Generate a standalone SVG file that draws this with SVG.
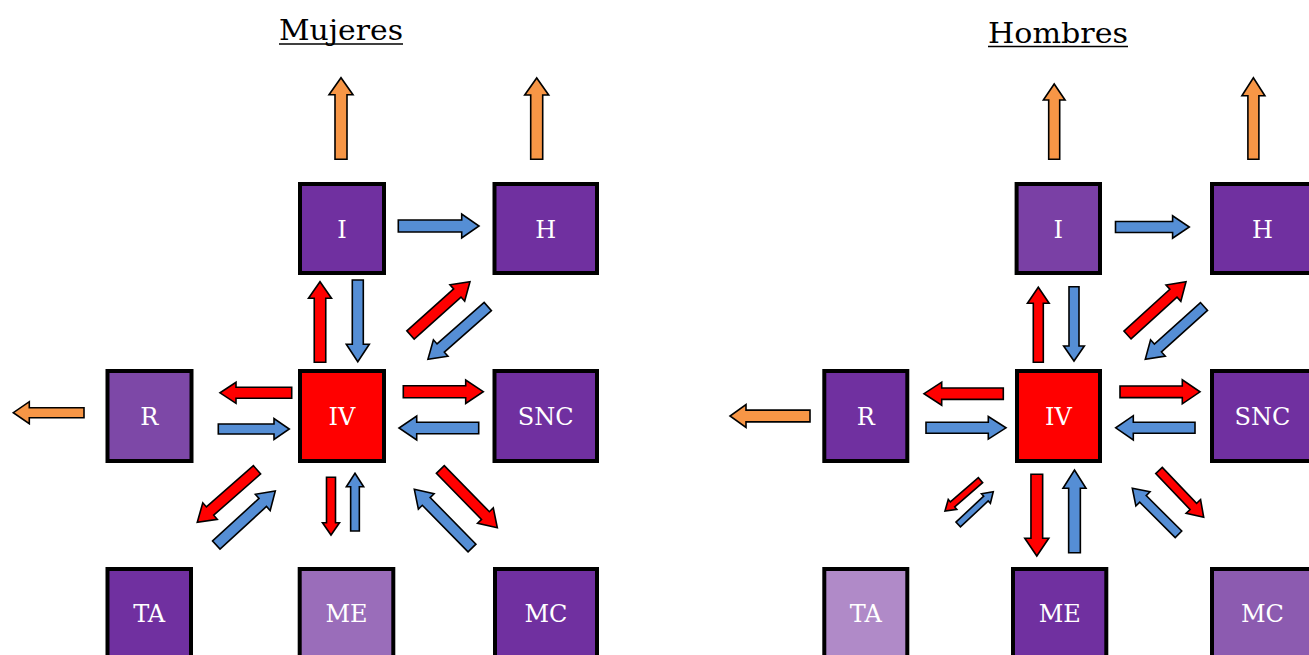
<svg xmlns="http://www.w3.org/2000/svg" width="1309" height="655" viewBox="0 0 1309 655">
  <style>
    .box { stroke: #000; stroke-width: 4; }
    .lbl { font-family: "DejaVu Serif", "Liberation Serif", serif; font-size: 24px; fill: #fff; text-anchor: middle; }
    .title { font-family: "DejaVu Serif", "Liberation Serif", serif; font-size: 27px; fill: #000; }
    .ul { stroke: #000; stroke-width: 1.4; }
    .arr { stroke: #000; stroke-width: 1.6; stroke-linejoin: miter; }
    .red { fill: #FF0000; }
    .blue { fill: #558ED5; }
    .orange { fill: #F79646; }
    .dark { fill: #7030A0; }
  </style>

  <rect width="1309" height="655" fill="#fff"/>

  <!-- panel titles -->
  <g id="title-mujeres">
    <text class="title" x="279" y="40" textLength="124" lengthAdjust="spacingAndGlyphs">Mujeres</text>
    <line class="ul" x1="279" y1="44" x2="403" y2="44"/>
  </g>
  <g id="title-hombres">
    <text class="title" x="988" y="42.5" textLength="140" lengthAdjust="spacingAndGlyphs">Hombres</text>
    <line class="ul" x1="988" y1="46.5" x2="1128" y2="46.5"/>
  </g>

  <!-- left panel nodes -->
  <g id="m-I"><rect class="box dark" x="300" y="184" width="84" height="89"/><text class="lbl" x="342" y="237.5">I</text></g>
  <g id="m-H"><rect class="box dark" x="494.5" y="184" width="102.5" height="89"/><text class="lbl" x="545.7" y="237.5">H</text></g>
  <g id="m-R"><rect class="box" fill="#7D48A7" x="107.5" y="371" width="84" height="90"/><text class="lbl" x="149.4" y="425">R</text></g>
  <g id="m-IV"><rect class="box" fill="#FF0000" x="300" y="371" width="84" height="90"/><text class="lbl" x="342" y="425">IV</text></g>
  <g id="m-SNC"><rect class="box dark" x="494.5" y="371" width="102.5" height="90"/><text class="lbl" x="545.7" y="425">SNC</text></g>
  <g id="m-TA"><rect class="box dark" x="107.5" y="569" width="83.5" height="90"/><text class="lbl" x="149.2" y="622">TA</text></g>
  <g id="m-ME"><rect class="box" fill="#9A6DBA" x="299.7" y="569" width="93.6" height="90"/><text class="lbl" x="346.5" y="622">ME</text></g>
  <g id="m-MC"><rect class="box dark" x="495" y="569" width="102" height="90"/><text class="lbl" x="546" y="622">MC</text></g>

  <!-- right panel nodes -->
  <g id="h-I"><rect class="box" fill="#7A40A5" x="1016.6" y="184" width="83.4" height="89"/><text class="lbl" x="1058.3" y="237.5">I</text></g>
  <g id="h-H"><rect class="box dark" x="1212" y="184" width="101" height="89"/><text class="lbl" x="1262.5" y="237.5">H</text></g>
  <g id="h-R"><rect class="box dark" x="824.3" y="371" width="83" height="90"/><text class="lbl" x="865.8" y="425">R</text></g>
  <g id="h-IV"><rect class="box" fill="#FF0000" x="1017" y="371" width="83" height="90"/><text class="lbl" x="1058.5" y="425">IV</text></g>
  <g id="h-SNC"><rect class="box dark" x="1212" y="371" width="101" height="90"/><text class="lbl" x="1262.5" y="425">SNC</text></g>
  <g id="h-TA"><rect class="box" fill="#B08AC8" x="824.3" y="569" width="83" height="90"/><text class="lbl" x="865.8" y="622">TA</text></g>
  <g id="h-ME"><rect class="box dark" x="1013" y="569" width="93.3" height="90"/><text class="lbl" x="1059.7" y="622">ME</text></g>
  <g id="h-MC"><rect class="box" fill="#8C5BB0" x="1212" y="569" width="101" height="90"/><text class="lbl" x="1262.5" y="622">MC</text></g>

  <!-- block arrows: each drawn pointing along +x from its tail, then placed and rotated -->
  <g id="connectors">
    <!-- left panel -->
    <polygon class="arr orange" points="0,-6 64.6,-6 64.6,-12 81.6,0 64.6,12 64.6,6 0,6" transform="translate(341 159.3) rotate(-90)"/>
    <polygon class="arr orange" points="0,-6 64.3,-6 64.3,-12 81.3,0 64.3,12 64.3,6 0,6" transform="translate(536.7 159.3) rotate(-90)"/>
    <polygon class="arr orange" points="0,-5 54.7,-5 54.7,-11 70.7,0 54.7,11 54.7,5 0,5" transform="translate(84 412.7) rotate(180)"/>
    <polygon class="arr blue" points="0,-6 63.4,-6 63.4,-12 80.7,0 63.4,12 63.4,6 0,6" transform="translate(398.3 226)"/>
    <polygon class="arr red" points="0,-5.75 64,-5.75 64,-11.5 80.6,0 64,11.5 64,5.75 0,5.75" transform="translate(320 362.3) rotate(-90)"/>
    <polygon class="arr blue" points="0,-5.5 64.3,-5.5 64.3,-11.5 81.7,0 64.3,11.5 64.3,5.5 0,5.5" transform="translate(357.8 280) rotate(90)"/>
    <polygon class="arr red" points="0,-5.5 62.9,-5.5 62.9,-11 79.9,0 62.9,11 62.9,5.5 0,5.5" transform="translate(410.5 335) rotate(-41.9)"/>
    <polygon class="arr blue" points="0,-5.5 62.8,-5.5 62.8,-11 79.8,0 62.8,11 62.8,5.5 0,5.5" transform="translate(487.8 306.5) rotate(138.6)"/>
    <polygon class="arr red" points="0,-5.5 55.7,-5.5 55.7,-10.5 71.7,0 55.7,10.5 55.7,5.5 0,5.5" transform="translate(291.7 392.8) rotate(180)"/>
    <polygon class="arr blue" points="0,-5 55.7,-5 55.7,-10.5 71,0 55.7,10.5 55.7,5 0,5" transform="translate(218.3 429)"/>
    <polygon class="arr red" points="0,-6 62.4,-6 62.4,-11.7 80,0 62.4,11.7 62.4,6 0,6" transform="translate(403.3 391.7)"/>
    <polygon class="arr blue" points="0,-5.7 62,-5.7 62,-12 79.7,0 62,12 62,5.7 0,5.7" transform="translate(478.7 428) rotate(180)"/>
    <polygon class="arr red" points="0,-5.5 62.5,-5.5 62.5,-11 79.5,0 62.5,11 62.5,5.5 0,5.5" transform="translate(257 469.8) rotate(138.7)"/>
    <polygon class="arr blue" points="0,-5.5 63,-5.5 63,-11 80,0 63,11 63,5.5 0,5.5" transform="translate(216.3 545) rotate(-42.5)"/>
    <polygon class="arr red" points="0,-4.5 45.4,-4.5 45.4,-8.5 57.7,0 45.4,8.5 45.4,4.5 0,4.5" transform="translate(331 477.3) rotate(90)"/>
    <polygon class="arr blue" points="0,-4.35 44.3,-4.35 44.3,-8.65 57.7,0 44.3,8.65 44.3,4.35 0,4.35" transform="translate(355 531) rotate(-90)"/>
    <polygon class="arr blue" points="0,-5.5 65.3,-5.5 65.3,-11 82.3,0 65.3,11 65.3,5.5 0,5.5" transform="translate(472 548) rotate(-134.5)"/>
    <polygon class="arr red" points="0,-5.5 64.5,-5.5 64.5,-11 81.5,0 64.5,11 64.5,5.5 0,5.5" transform="translate(440.3 469.5) rotate(45.6)"/>

    <!-- right panel -->
    <polygon class="arr orange" points="0,-5.5 59.3,-5.5 59.3,-10.85 75.3,0 59.3,10.85 59.3,5.5 0,5.5" transform="translate(1054.2 159.3) rotate(-90)"/>
    <polygon class="arr orange" points="0,-5.5 63.6,-5.5 63.6,-11.5 81.6,0 63.6,11.5 63.6,5.5 0,5.5" transform="translate(1253.4 159.3) rotate(-90)"/>
    <polygon class="arr orange" points="0,-5.85 64,-5.85 64,-11.5 80,0 64,11.5 64,5.85 0,5.85" transform="translate(810 416) rotate(180)"/>
    <polygon class="arr blue" points="0,-5.5 57.1,-5.5 57.1,-11.15 73.8,0 57.1,11.15 57.1,5.5 0,5.5" transform="translate(1115.5 227)"/>
    <polygon class="arr red" points="0,-5 59,-5 59,-10.85 75,0 59,10.85 59,5 0,5" transform="translate(1038.3 362.3) rotate(-90)"/>
    <polygon class="arr blue" points="0,-5 59.3,-5 59.3,-10.35 74.3,0 59.3,10.35 59.3,5 0,5" transform="translate(1074 286.7) rotate(90)"/>
    <polygon class="arr red" points="0,-5.3 62.1,-5.3 62.1,-11 79.1,0 62.1,11 62.1,5.3 0,5.3" transform="translate(1127.5 335) rotate(-42.3)"/>
    <polygon class="arr blue" points="0,-5.3 62,-5.3 62,-11 79,0 62,11 62,5.3 0,5.3" transform="translate(1204 306.5) rotate(138)"/>
    <polygon class="arr red" points="0,-5.65 61.6,-5.65 61.6,-11.5 79.3,0 61.6,11.5 61.6,5.65 0,5.65" transform="translate(1003.3 393.7) rotate(180)"/>
    <polygon class="arr blue" points="0,-5.5 62.3,-5.5 62.3,-11.3 80,0 62.3,11.3 62.3,5.5 0,5.5" transform="translate(926 427.8)"/>
    <polygon class="arr red" points="0,-5.85 62.3,-5.85 62.3,-12 80,0 62.3,12 62.3,5.85 0,5.85" transform="translate(1120 391.8)"/>
    <polygon class="arr blue" points="0,-5.5 61.7,-5.5 61.7,-12.15 79.3,0 61.7,12.15 61.7,5.5 0,5.5" transform="translate(1195 427.8) rotate(180)"/>
    <polygon class="arr red" points="0,-3.3 37,-3.3 37,-6.5 47,0 37,6.5 37,3.3 0,3.3" transform="translate(980.5 480.2) rotate(139.1)"/>
    <polygon class="arr blue" points="0,-3.3 38,-3.3 38,-6.5 48,0 38,6.5 38,3.3 0,3.3" transform="translate(958.2 524.5) rotate(-43.1)"/>
    <polygon class="arr red" points="0,-5.85 64,-5.85 64,-12 81.7,0 64,12 64,5.85 0,5.85" transform="translate(1036.8 474.3) rotate(90)"/>
    <polygon class="arr blue" points="0,-5.85 64.4,-5.85 64.4,-11.5 82.7,0 64.4,11.5 64.4,5.85 0,5.85" transform="translate(1074.5 552.7) rotate(-90)"/>
    <polygon class="arr blue" points="0,-4.6 50.2,-4.6 50.2,-10 65.2,0 50.2,10 50.2,4.6 0,4.6" transform="translate(1178.5 534.3) rotate(-135.1)"/>
    <polygon class="arr red" points="0,-4.5 49.7,-4.5 49.7,-10 64.7,0 49.7,10 49.7,4.5 0,4.5" transform="translate(1159 470.5) rotate(46.3)"/>
  </g>
</svg>
